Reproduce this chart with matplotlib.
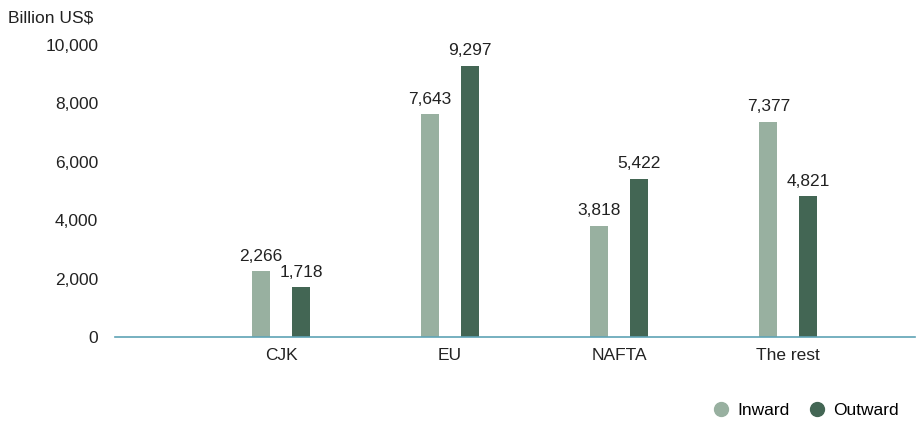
import matplotlib.pyplot as plt
import numpy as np
from matplotlib.lines import Line2D

categories = ['CJK', 'EU', 'NAFTA', 'The rest']
inward = [2266, 7643, 3818, 7377]
outward = [1718, 9297, 5422, 4821]

plt.rcParams['font.family'] = ['Liberation Sans', 'DejaVu Sans']
FS = 12.5

fig = plt.figure(figsize=(9.18, 4.22), dpi=100)
ax = fig.add_axes([115 / 918, 1 - 337 / 422, 800 / 918, 292 / 422])

x = np.arange(len(categories))
off = 0.118
w = 0.107
b1 = ax.bar(x - off, inward, w, color='#98b0a0', label='Inward')
b2 = ax.bar(x + off, outward, w, color='#436654', label='Outward')

for bars in (b1, b2):
    for bar in bars:
        h = bar.get_height()
        ax.text(bar.get_x() + bar.get_width() / 2, h + 250, f'{int(h):,}',
                ha='center', va='bottom', fontsize=FS, color='#222222')

ax.set_xlim(-0.982, 3.75)
ax.set_ylim(0, 10000)
ax.set_yticks(range(0, 10001, 2000))
ax.set_yticklabels([f'{v:,}' for v in range(0, 10001, 2000)])
ax.set_xticks(x)
ax.set_xticklabels(categories)
ax.tick_params(axis='both', length=0, labelsize=FS, colors='#222222')
ax.tick_params(axis='y', pad=12)
ax.tick_params(axis='x', pad=8)

for s in ['top', 'right', 'left']:
    ax.spines[s].set_visible(False)
ax.spines['bottom'].set_color('#5fa3b5')
ax.spines['bottom'].set_linewidth(1.2)

fig.text(8 / 918, 1 - 18 / 422, 'Billion US$', fontsize=FS, va='center', color='#222222')

handles = [Line2D([], [], marker='o', linestyle='', markersize=10, color='#98b0a0'),
           Line2D([], [], marker='o', linestyle='', markersize=10, color='#436654')]
fig.legend(handles, ['Inward', 'Outward'], loc='center right',
           bbox_to_anchor=(914 / 918, 1 - 410 / 422), ncol=2, frameon=False,
           fontsize=FS, handletextpad=0.3, columnspacing=1.0, handlelength=1.2)

fig.savefig('out.png', dpi=100)
